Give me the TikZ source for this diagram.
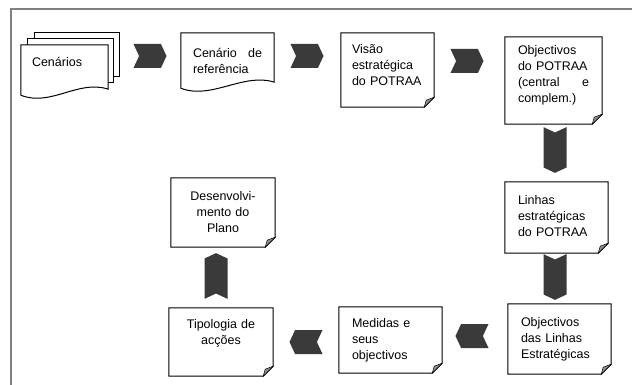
\documentclass[tikz,border=0pt]{standalone}
\usepackage{fontspec}
\setmainfont{Liberation Sans}
\usetikzlibrary{positioning, shapes.symbols, backgrounds}
\hyphenpenalty=10000
\definecolor{escuro}{HTML}{3A3A3A}
\definecolor{dobra}{HTML}{8C8C8C}
\tikzstyle{caixa}=[inner sep=0pt, align=left, font=\fontsize{12.5}{16}\selectfont]
\tikzstyle{contorno}=[draw=black, line width=1pt, fill=white]
\tikzstyle{seta}=[signal, draw=none, fill=escuro, inner sep=0pt, signal pointer angle=130]
\tikzstyle{horiz}=[seta, minimum width=33pt, minimum height=24pt]
\tikzstyle{vert}=[seta, minimum width=23pt, minimum height=35pt]
\tikzstyle{moldura}=[draw=gray, line width=1.2pt]

\begin{document}
\begin{tikzpicture}[x=1pt, y=-1pt]
  \useasboundingbox (0,0) rectangle (632,385);
  % Moldura
  \draw[moldura] (632,9) -- (11,9) -- (11,385);

  % Caixas
  \node[caixa, minimum width=87pt, minimum height=50pt, text width=65pt, text depth=16pt] (cenarios) at (64.5,70) {Cenários};
  \node[caixa, minimum width=93pt, minimum height=55pt, text width=69pt] (referencia) at (227.5,60.5) {Cenário\hfill de\\referência};
  \node[caixa, minimum width=93pt, minimum height=74pt, text width=71pt, text depth=42pt] (visao) at (387.5,70) {Visão\\estratégica\\do POTRAA};
  \node[caixa, minimum width=97pt, minimum height=87pt, text width=71pt, text depth=61pt] (objpotraa) at (553.5,80.5) {Objectivos\\do POTRAA\\(central\hfill e\\complem.)};
  \node[caixa, minimum width=103pt, minimum height=71pt, text width=77pt, text depth=36pt] (linhas) at (556.5,217.5) {Linhas\\estratégicas\\do POTRAA};
  \node[caixa, minimum width=103pt, minimum height=70pt, text width=77pt] (objlinhas) at (559.5,339) {Objectivos\\das Linhas\\Estratégicas};
  \node[caixa, minimum width=103pt, minimum height=66pt, text width=77pt] (medidas) at (390.5,340) {Medidas e\\seus\\objectivos};
  \node[caixa, align=center, minimum width=104pt, minimum height=68pt, text width=90pt, text depth=36pt] (tipologia) at (221,342) {Tipologia de\\acções};
  \node[caixa, align=center, minimum width=104pt, minimum height=69pt, text width=90pt] (desenvolvimento) at (223,212.5) {Desenvolvi-\\mento do\\Plano};

  % Setas
  \node[horiz, signal to=east, signal from=west] (s1) at (150,56) {};
  \node[horiz, signal to=east, signal from=west] (s2) at (307,56) {};
  \node[horiz, signal to=east, signal from=west] (s3) at (467,61) {};
  \node[vert, signal to=south, signal from=north] (s4) at (555,150) {};
  \node[vert, signal to=south, signal from=north] (s5) at (555,277) {};
  \node[horiz, signal to=west, signal from=east] (s6) at (472,336) {};
  \node[horiz, signal to=west, signal from=east] (s7) at (306,342) {};
  \node[vert, signal to=north, signal from=south] (s8) at (216,276) {};

  % Contornos
  \begin{scope}[on background layer]
    \draw[contorno] ([xshift=14pt, yshift=12pt]cenarios.north west) rectangle ([xshift=11pt, yshift=19pt]cenarios.south east);
    \draw[contorno] ([xshift=7pt, yshift=6pt]cenarios.north west) rectangle ([xshift=5pt, yshift=13pt]cenarios.south east);
    \foreach \n in {cenarios, referencia}
      \draw[contorno] (\n.south west) -- (\n.north west) -- (\n.north east) -- ([yshift=6pt]\n.south east)
        .. controls ([xshift=-30pt, yshift=16pt]\n.south east) and ([xshift=30pt, yshift=-12pt]\n.south west) .. (\n.south west) -- cycle;
    \foreach \n in {visao, objpotraa, linhas, objlinhas, medidas, tipologia, desenvolvimento}{
      \draw[contorno] (\n.north west) -- (\n.north east) -- ([yshift=10pt]\n.south east) -- ([xshift=-10pt]\n.south east) -- (\n.south west) -- cycle;
      \draw[fill=dobra, line width=0.5pt] ([yshift=10pt]\n.south east) -- ([xshift=-10pt]\n.south east) -- ([xshift=-8pt, yshift=7pt]\n.south east) -- cycle;
    }
  \end{scope}
\end{tikzpicture}
\end{document}
